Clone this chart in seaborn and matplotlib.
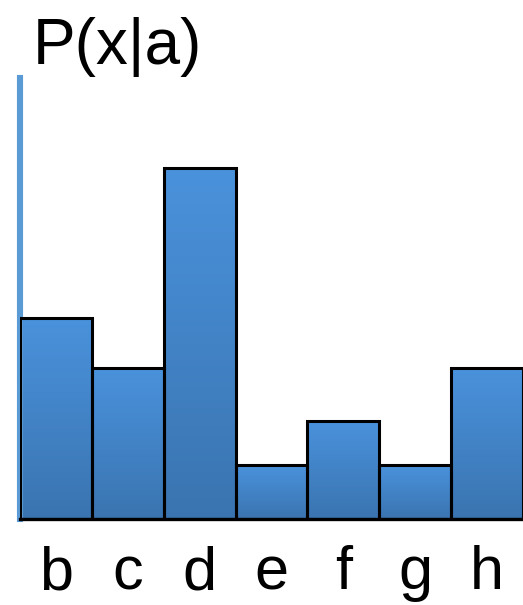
import numpy as np
import pandas as pd
import seaborn as sns
import matplotlib.pyplot as plt

# Data (heights in relative units)
letters = ['b', 'c', 'd', 'e', 'f', 'g', 'h']
probs = [201, 151, 351, 54, 98, 54, 151]

df = pd.DataFrame({'x': letters, 'p': probs})

sns.set_style('white')
plt.rcParams['font.family'] = ['Liberation Sans', 'DejaVu Sans']

fig = plt.figure(figsize=(5.23, 6.05), dpi=100)
ax = fig.add_axes([20 / 523, 86 / 605, 503 / 523, 441 / 605])

ax = sns.barplot(x='x', y='p', data=df, width=1.0, color='#4488cc',
                 edgecolor='black', linewidth=2.2, saturation=1, ax=ax)

# vertical gradient inside each bar
grad = np.linspace(0, 1, 256).reshape(-1, 1)
cmap = sns.blend_palette(['#3a74b0', '#4a92dc'], as_cmap=True)
for patch in ax.patches:
    x0, y0 = patch.get_x(), patch.get_y()
    w, h = patch.get_width(), patch.get_height()
    im = ax.imshow(grad, cmap=cmap, aspect='auto', origin='lower',
                   extent=[x0, x0 + w, y0, y0 + h], zorder=patch.get_zorder() - 0.1)
    im.set_clip_path(patch)
    patch.set_facecolor('none')
    patch.set_zorder(3)

ax.set_xlim(-0.5, len(letters) - 0.5)
ax.set_ylim(0, 441)
ax.set_yticks([])
ax.set(xlabel='', ylabel='')
ax.tick_params(axis='x', length=0, pad=19, labelsize=44, labelcolor='black')

sns.despine(ax=ax, top=True, right=True)
ax.spines['left'].set_color('#5b9bd5')
ax.spines['left'].set_linewidth(4.4)
ax.spines['bottom'].set_color('black')
ax.spines['bottom'].set_linewidth(2.4)

fig.text(33 / 523, 1 - 64 / 605, 'P(x|a)', fontsize=46, ha='left', va='baseline',
         color='black')

fig.savefig('out.png', dpi=100)
